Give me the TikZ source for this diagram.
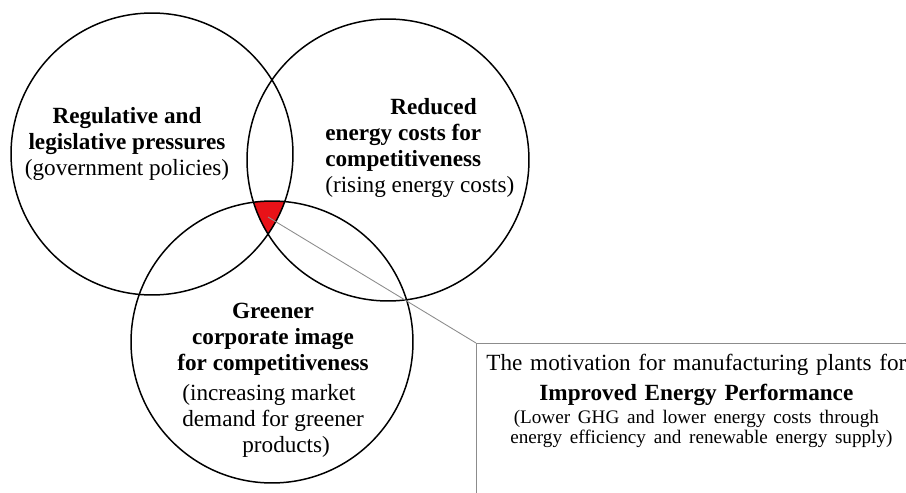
\documentclass[tikz,border=0pt]{standalone}
\usepackage{fontspec}
\setmainfont{Liberation Serif}
\definecolor{corered}{RGB}{232,18,24}
\tikzset{
  venn/.style={line width=0.85pt},
  venntext/.style={inner sep=0pt, font=\fontsize{13.2}{14.8}\selectfont},
  pointer/.style={draw=gray!90, line width=0.5pt}
}

\begin{document}
\begin{tikzpicture}[x=0.02cm,y=-0.02cm]
\newcommand{\crad}{2.82cm}
\clip (0,0) rectangle (906,493);

\coordinate (reg) at (152,154);
\coordinate (cost) at (388,160);
\coordinate (green) at (272,342);
\coordinate (core) at (268,217);

\begin{scope}
\clip (reg) circle [radius=\crad];
\clip (cost) circle [radius=\crad];
\fill [corered] (green) circle [radius=\crad];
\end{scope}
\draw [venn] (reg) circle [radius=\crad];
\draw [venn] (cost) circle [radius=\crad];
\draw [venn] (green) circle [radius=\crad];

\node (regtext) [venntext, align=center] at (127,144) {\textbf{Regulative and}\\\textbf{legislative pressures}\\(government policies)};
\node (costtext) [venntext, align=left, anchor=west] at (325,148) {\hspace*{1.3cm}\textbf{Reduced}\\\textbf{energy costs for}\\\textbf{competitiveness}\\(rising energy costs)};
\node (greentext) [venntext, align=center] at (273,339) {\textbf{Greener}\\\textbf{corporate image}\\\textbf{for competitiveness}};
\node (greennote) [venntext, align=left, anchor=west] at (182,421) {(increasing market\\demand for greener\\\hspace*{1.2cm}products)};

\node (motiv) [pointer, anchor=north west, text width=8.8cm, inner xsep=0pt, inner ysep=0.22cm, align=center, font=\fontsize{13.2}{14.8}\selectfont] at (476,343) {The motivation for manufacturing plants for\par\vspace{2pt}\textbf{Improved Energy Performance}\par\vspace{2pt}\fontsize{10.9}{9.8}\selectfont(Lower GHG and lower energy costs through\\\hspace*{0.2cm}energy efficiency and renewable energy supply)\par\rule{0pt}{1.5cm}};
\draw [pointer] (core) -- (motiv.north west);
\end{tikzpicture}
\end{document}
